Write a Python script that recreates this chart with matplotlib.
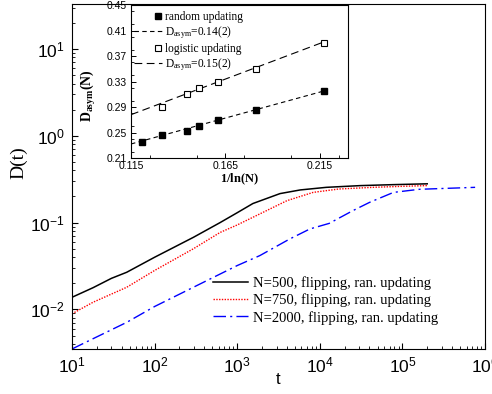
import numpy as np
import matplotlib
matplotlib.use("Agg")
import matplotlib.pyplot as plt
from matplotlib.legend_handler import HandlerLine2D
from matplotlib.lines import Line2D
from matplotlib.ticker import MultipleLocator

# main panel: D(t) for three system sizes
t_500 = [10, 18, 30, 46, 100, 295, 620, 1000, 1550, 3300, 5800, 1.2e4, 3.1e4, 7.8e4, 2e5]
D_500 = [0.0138, 0.0178, 0.0228, 0.0268, 0.0399, 0.0677, 0.1, 0.13, 0.166, 0.216, 0.238,
         0.255, 0.267, 0.274, 0.28]

t_750 = [10, 18, 46, 100, 295, 620, 1000, 1880, 4000, 8300, 1.7e4, 4.4e4, 1e5, 2e5]
D_750 = [0.0089, 0.0121, 0.018, 0.0281, 0.050, 0.077, 0.094, 0.126, 0.179, 0.223, 0.244,
         0.255, 0.262, 0.267]

t_2000 = [10, 18, 46, 100, 295, 1000, 1880, 4300, 7600, 1.3e4, 2.5e4, 4e4, 7.8e4, 1.6e5, 7.6e5]
D_2000 = [0.0035, 0.0046, 0.0071, 0.0108, 0.018, 0.032, 0.0417, 0.0646, 0.0846, 0.098,
          0.137, 0.171, 0.223, 0.242, 0.255]

# inset: asymptotic D vs 1/ln(N)
x_random = [0.1206, 0.1316, 0.1448, 0.1511, 0.1609, 0.1811, 0.2171]
D_random = [0.235, 0.246, 0.253, 0.260, 0.270, 0.285, 0.315]
x_logistic = [0.1316, 0.1448, 0.1511, 0.1609, 0.1811, 0.2171]
D_logistic = [0.290, 0.310, 0.320, 0.330, 0.350, 0.390]
x_fit = [0.115, 0.217]
fit_random = [0.232, 0.315]
fit_logistic = [0.278, 0.392]

labels_main = ["N=500, flipping, ran. updating",
               "N=750, flipping, ran. updating",
               "N=2000, flipping, ran. updating"]
labels_inset = ["random updating", r"D$_{\rm asym}$=0.14(2)",
                "logistic updating", r"D$_{\rm asym}$=0.15(2)"]

plt.rcParams["font.family"] = "Liberation Sans"
plt.rcParams["mathtext.fontset"] = "custom"
plt.rcParams["mathtext.rm"] = "Liberation Serif"
plt.rcParams["mathtext.it"] = "Liberation Serif:italic"
plt.rcParams["mathtext.bf"] = "Liberation Serif:bold"

SERIF = "Liberation Serif"


class RightMarker(HandlerLine2D):
    # single marker drawn near the right end of the handle box
    def get_xdata(self, legend, xdescent, ydescent, width, height, fontsize):
        d = 0.3 * fontsize
        right = -xdescent + width
        return [right - 2 * d, right], [right - d]


fig = plt.figure(figsize=(4.92, 3.94), dpi=100)
ax = fig.add_axes([0.1463, 0.1142, 0.8394, 0.8756])

ax.plot(t_500, D_500, color="black", lw=1.1, label=labels_main[0])
ax.plot(t_750, D_750, color="red", lw=1.0, ls=(0, (1, 1)), label=labels_main[1])
ax.plot(t_2000, D_2000, color="blue", lw=1.0, ls=(0, (9, 3, 1.5, 3)), label=labels_main[2])

ax.set_xscale("log")
ax.set_yscale("log")
ax.set_xlim(10, 1e6)
ax.set_ylim(0.0035, 33)
ax.tick_params(which="both", direction="in", top=False, right=False, labelsize=12.5)
ax.tick_params(which="major", length=4, width=0.8, pad=5)
ax.tick_params(which="minor", length=2, width=0.6)
ax.set_xlabel("t", fontsize=12)
ax.xaxis.set_label_coords(0.5, -0.068)
ax.set_ylabel("D(t)", fontsize=14, family=SERIF)
ax.yaxis.set_label_coords(-0.108, 0.54)

ax.legend(loc="upper left", bbox_to_anchor=(0.341, 0.212), frameon=False,
          prop={"family": SERIF, "size": 10.5}, handlelength=2.4, handletextpad=0.35,
          labelspacing=0.25, borderpad=0, borderaxespad=0)

# inset
ins = fig.add_axes([0.2663, 0.599, 0.441, 0.388])
ins.plot(x_fit, fit_random, color="black", lw=0.8, ls=(0, (4, 3)))
ins.plot(x_fit, fit_logistic, color="black", lw=0.8, ls=(0, (7, 4)))
ins.plot(x_random, D_random, ls="none", marker="s", ms=5, mfc="black", mec="black")
ins.plot(x_logistic, D_logistic, ls="none", marker="s", ms=5, mfc="white", mec="black", mew=0.8)

ins.set_xlim(0.115, 0.23)
ins.set_ylim(0.21, 0.45)
ins.set_xticks([0.115, 0.165, 0.215])
ins.set_xticklabels(["0.115", "0.165", "0.215"])
ins.xaxis.set_minor_locator(MultipleLocator(0.025))
ins.set_yticks([0.21, 0.25, 0.29, 0.33, 0.37, 0.41, 0.45])
ins.set_yticklabels(["0.21", "0.25", "0.29", "0.33", "0.37", "0.41", "0.45"])
ins.yaxis.set_minor_locator(MultipleLocator(0.02))
ins.tick_params(which="both", direction="in", top=False, right=False, labelsize=7.5)
ins.tick_params(which="major", length=3.5, width=0.7, pad=2)
ins.tick_params(which="minor", length=2, width=0.6)
ins.tick_params(axis="y", which="major", pad=3)
ins.set_xlabel(r"$\mathbf{1/ln(N)}$", fontsize=9)
ins.xaxis.set_label_coords(0.5, -0.09)
ins.set_ylabel(r"$\mathbf{D_{asym}(N)}$", fontsize=10)
ins.yaxis.set_label_coords(-0.15, 0.405)

handles = [
    Line2D([], [], ls="none", marker="s", ms=5, mfc="black", mec="black"),
    Line2D([], [], color="black", lw=0.8, ls=(0, (4, 3))),
    Line2D([], [], ls="none", marker="s", ms=5, mfc="white", mec="black", mew=0.8),
    Line2D([], [], color="black", lw=0.8, ls=(0, (7, 4))),
]
ins.legend(handles, labels_inset, loc="upper left", bbox_to_anchor=(0.015, 0.96),
           frameon=False, prop={"family": SERIF, "size": 8.3}, handlelength=2.4,
           handletextpad=0.3, labelspacing=0.12, borderpad=0, borderaxespad=0,
           numpoints=1, handler_map={handles[0]: RightMarker(), handles[2]: RightMarker()})

fig.savefig("out.png", dpi=100)
